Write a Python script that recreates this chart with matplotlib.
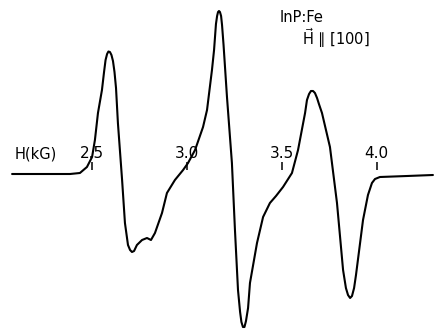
import matplotlib
matplotlib.use("Agg")
import matplotlib.pyplot as plt
import numpy as np

# magnetic field (kG) and derivative signal (arb. units)
field_kg = [
    2.082, 2.229, 2.387, 2.439, 2.476, 2.503, 2.518, 2.534, 2.555, 2.566,
    2.574, 2.582, 2.589, 2.597, 2.605, 2.613, 2.621, 2.629, 2.639, 2.661,
    2.676, 2.692, 2.703, 2.713, 2.724, 2.739, 2.766, 2.792, 2.813, 2.834,
    2.871, 2.897, 2.939, 2.982, 3.008, 3.045, 3.087, 3.108, 3.134, 3.145,
    3.155, 3.161, 3.166, 3.171, 3.176, 3.182, 3.187, 3.195, 3.213, 3.239,
    3.255, 3.271, 3.282, 3.289, 3.297, 3.305, 3.313, 3.324, 3.334, 3.371,
    3.403, 3.439, 3.471, 3.508, 3.555, 3.587, 3.624, 3.634, 3.645, 3.655,
    3.666, 3.676, 3.687, 3.697, 3.713, 3.755, 3.792, 3.824, 3.839, 3.850,
    3.861, 3.871, 3.882, 3.892, 3.929, 3.955, 3.976, 3.992, 4.018, 4.161,
    4.297,
]
signal = [
    1, 1, 1, 2, 8, 18, 35, 62, 85, 103,
    115, 121, 123.5, 123, 120, 114, 103, 87, 52, -5,
    -48, -70, -75, -77, -76, -70, -65, -63, -65, -58,
    -38, -18, -5, 5, 12, 25, 48, 65, 105, 125,
    151, 159, 163, 164, 163, 159, 150, 130, 78, 12,
    -55, -115, -137, -147, -152, -152, -146, -133, -108, -68,
    -42, -28, -21, -12, 2, 25, 62, 75, 81, 84,
    84, 82, 77, 71, 62, 28, -28, -95, -113, -120,
    -123, -121, -113, -100, -45, -20, -8, -4, -2, -1,
    0,
]

tick_fields = [2.5, 3.0, 3.5, 4.0]
tick_labels = ["2.5", "3.0", "3.5", "4.0"]

fig = plt.figure(figsize=(4.39, 3.31), dpi=100)
ax = fig.add_axes([0, 0, 1, 1])
ax.set_xlim(2.0184, 4.3289)
ax.set_ylim(-156, 175)
ax.axis("off")

ax.plot(field_kg, signal, color="black", lw=1.5,
        solid_joinstyle="round", solid_capstyle="round")

# field scale: small vertical marks with labels above
ax.vlines(tick_fields, 5, 13, color="black", lw=1.1)
for h, lab in zip(tick_fields, tick_labels):
    ax.text(h, 21, lab, ha="center", va="center", fontsize=11)
ax.text(2.097, 21, "H(kG)", ha="left", va="center", fontsize=10.5)

ax.text(0.638, 0.946, "InP:Fe", transform=ax.transAxes,
        ha="left", va="center", fontsize=10.5)
ax.text(0.688, 0.885, r"$\vec{\mathrm{H}}$ ∥ [100]", transform=ax.transAxes,
        ha="left", va="center", fontsize=10.5)

fig.savefig("out.png", dpi=100)
